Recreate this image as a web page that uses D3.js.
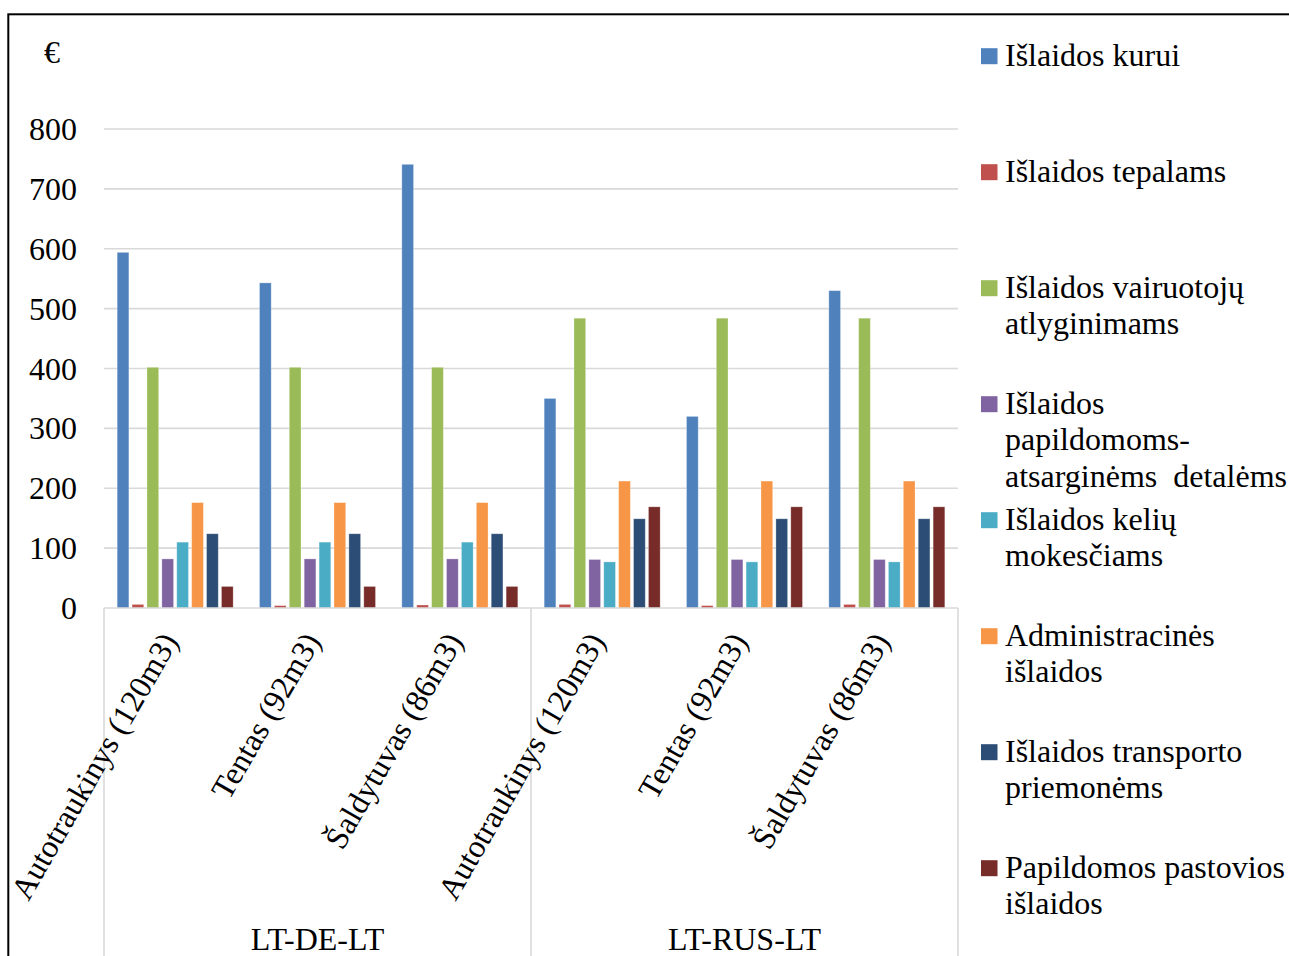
<!DOCTYPE html>
<html><head><meta charset="utf-8">
<script src="https://cdn.jsdelivr.net/npm/d3@7"></script>
<style>
html,body{margin:0;padding:0;background:#fff;overflow:hidden;}
text{font-family:"Liberation Serif","Times New Roman",serif;fill:#000;}
</style></head>
<body><svg id="c" width="1289" height="956"></svg>
<script>
// ---- data ----
const categories = ["Autotraukinys (120m3)","Tentas (92m3)","Šaldytuvas (86m3)","Autotraukinys (120m3)","Tentas (92m3)","Šaldytuvas (86m3)"];
const groups = ["LT-DE-LT","LT-RUS-LT"];
const seriesNames = ["Išlaidos kurui","Išlaidos tepalams","Išlaidos vairuotojų atlyginimams","Išlaidos papildomoms-atsarginėms  detalėms","Išlaidos kelių mokesčiams","Administracinės išlaidos","Išlaidos transporto priemonėms","Papildomos pastovios išlaidos"];
const legendLines = [["Išlaidos kurui"],["Išlaidos tepalams"],["Išlaidos vairuotojų","atlyginimams"],["Išlaidos","papildomoms-","atsarginėms  detalėms"],["Išlaidos kelių","mokesčiams"],["Administracinės","išlaidos"],["Išlaidos transporto","priemonėms"],["Papildomos pastovios","išlaidos"]];
const kurui       = [594, 543, 741, 350, 320, 530];
const tepalams    = [6, 4, 5, 6, 4, 6];
const vairuotoju  = [402, 402, 402, 484, 484, 484];
const detalems    = [82, 82, 82, 81, 81, 81];
const keliu       = [110, 110, 110, 77, 77, 77];
const administr   = [176, 176, 176, 212, 212, 212];
const transporto  = [124, 124, 124, 149, 149, 149];
const pastovios   = [36, 36, 36, 169, 169, 169];
const seriesValues = [kurui, tepalams, vairuotoju, detalems, keliu, administr, transporto, pastovios];
const yTicks = [0,100,200,300,400,500,600,700,800];
const colors = ["#4F81BD","#C0504D","#9BBB59","#8064A2","#4BACC6","#F79646","#2C4D75","#772C2A"];

// ---- layout ----
const svg = d3.select("#c");
const L = 104, R = 958, T = 129, B = 608;
const FS = 32;

svg.append("rect").attr("x",8.3).attr("y",14.3).attr("width",1400).attr("height",1100)
  .attr("fill","#fff").attr("stroke","#000").attr("stroke-width",2);

const y = d3.scaleLinear().domain([0,800]).range([B,T]);
const x0 = d3.scaleBand().domain(d3.range(categories.length)).range([L,R]).padding(0);
const x1 = d3.scaleBand().domain(d3.range(seriesNames.length)).range([0,x0.bandwidth()])
  .paddingInner(0.215).paddingOuter(0.884);

// gridlines
svg.append("g").selectAll("line").data(yTicks.filter(d=>d>0)).join("line")
  .attr("x1",L).attr("x2",R).attr("y1",d=>y(d)).attr("y2",d=>y(d))
  .attr("stroke","#d9d9d9").attr("stroke-width",1.6);

// y labels
svg.append("g").selectAll("text").data(yTicks).join("text")
  .attr("x",77).attr("y",d=>y(d)+11).attr("text-anchor","end")
  .attr("font-size",FS).text(d=>d);

svg.append("text").attr("x",52).attr("y",63).attr("text-anchor","middle").attr("font-size",FS).text("€");

// bars
const gCat = svg.append("g").selectAll("g").data(categories.map((c,i)=>i)).join("g")
  .attr("transform",i=>`translate(${x0(i)},0)`);
gCat.selectAll("rect").data(i=>seriesValues.map((vals,s)=>({s,v:vals[i]}))).join("rect")
  .attr("x",d=>x1(d.s)).attr("width",x1.bandwidth())
  .attr("y",d=>y(d.v)).attr("height",d=>y(0)-y(d.v))
  .attr("fill",d=>colors[d.s])
  .attr("stroke","rgba(255,255,255,0.35)").attr("stroke-width",0.8);

// x axis line & separators
svg.append("line").attr("x1",L).attr("x2",R).attr("y1",B).attr("y2",B)
  .attr("stroke","#d9d9d9").attr("stroke-width",1.6);
const seps = [0,3,6].map(i=> i<categories.length ? x0(i) : R);
svg.append("g").selectAll("line").data(seps).join("line")
  .attr("x1",d=>d).attr("x2",d=>d).attr("y1",B).attr("y2",960)
  .attr("stroke","#d9d9d9").attr("stroke-width",1.6);

// category labels
svg.append("g").selectAll("text").data(categories).join("text")
  .attr("transform",(d,i)=>`translate(${x0(i)+x0.bandwidth()/2+4},641) rotate(-60)`)
  .attr("text-anchor","end").attr("font-size",FS).text(d=>d);

// group labels
svg.append("g").selectAll("text").data(groups).join("text")
  .attr("x",(d,i)=>(x0(i*3)+ (i*3+3<categories.length? x0(i*3+3):R))/2)
  .attr("y",950).attr("text-anchor","middle").attr("font-size",FS).text(d=>d);

// legend
const lg = svg.append("g").selectAll("g").data(legendLines).join("g")
  .attr("transform",(d,i)=>`translate(0,${65.7+116*i})`);
lg.append("rect").attr("x",981).attr("y",-17.5).attr("width",16.5).attr("height",16)
  .attr("fill",(d,i)=>colors[i]);
lg.each(function(lines){
  const t = d3.select(this).append("text").attr("font-size",FS).attr("xml:space","preserve").style("white-space","pre");
  lines.forEach((ln,k)=>t.append("tspan").attr("x",1005).attr("y",k*36.7).text(ln));
});
</script></body></html>
